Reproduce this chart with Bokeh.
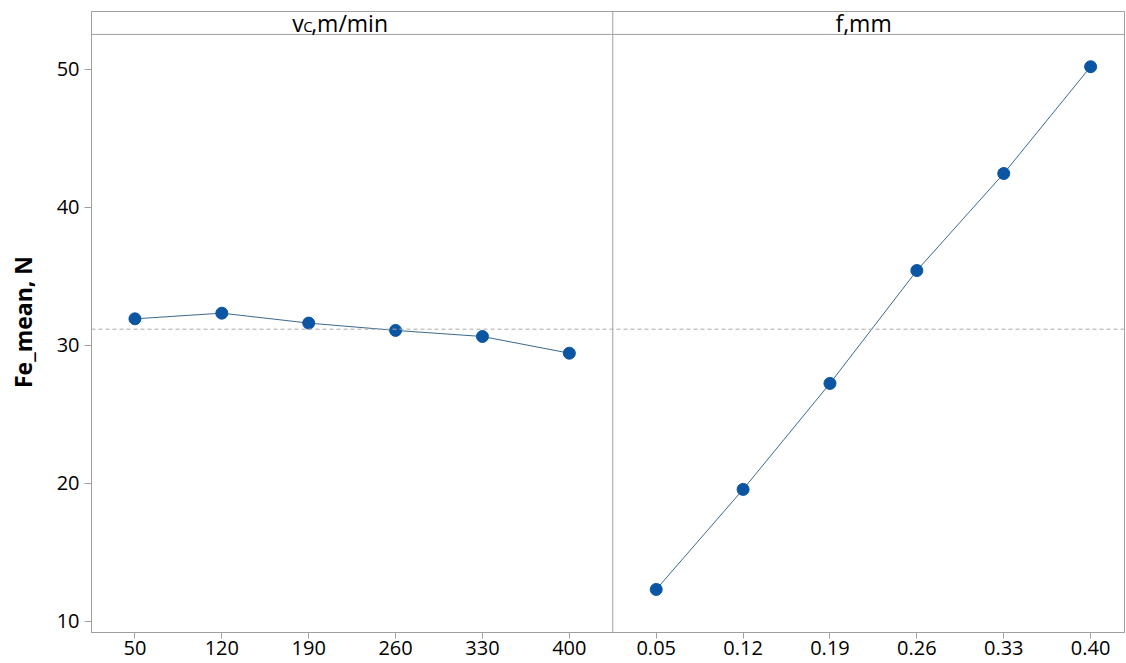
from bokeh.plotting import figure
from bokeh.models import Span, Label, FixedTicker, Range1d
from bokeh.embed import file_html
from bokeh.resources import INLINE

# Data
vc_levels = ["50", "120", "190", "260", "330", "400"]
vc_means = [31.93, 32.34, 31.62, 31.09, 30.65, 29.44]
f_levels = ["0.05", "0.12", "0.19", "0.26", "0.33", "0.40"]
f_means = [12.32, 19.57, 27.25, 35.43, 42.46, 50.20]
y_ticks = [10, 20, 30, 40, 50]
y_label = "Fe_mean, N"
panel_vc_title = ("v", "C", ",m/min")
panel_f_title = "f,mm"

grand_mean = sum(vc_means) / len(vc_means)

FONT = "Open Sans"
BLUE = "#0B55A3"
LINE = "#3A6A90"
GRAY = "#A0A0A0"

y_lo, y_strip, y_hi = 9.2, 52.54, 54.2

p = figure(width=1126, height=663, output_backend="svg", toolbar_location=None,
           x_range=Range1d(-0.5, 11.39), y_range=Range1d(y_lo, y_hi),
           min_border_left=91, min_border_right=2, min_border_top=11, min_border_bottom=31)
p.grid.visible = False
p.outline_line_color = GRAY
p.outline_line_width = 1
p.background_fill_color = "white"
p.border_fill_color = "white"

# positions in index space
xl = list(range(len(vc_levels)))
xr = [i + len(vc_levels) for i in range(len(f_levels))]

# mean reference line
p.add_layout(Span(location=grand_mean, dimension="width", line_color="#ABABAB",
                  line_dash="4 3", line_width=1))
# strip bottom line
p.add_layout(Span(location=y_strip, dimension="width", line_color=GRAY, line_width=1))
# panel divider
p.add_layout(Span(location=len(vc_levels) - 0.5, dimension="height", line_color=GRAY, line_width=1))

p.line(xl, vc_means, line_color=LINE, line_width=1)
p.scatter(xl, vc_means, size=12, fill_color=BLUE, line_color=BLUE)
p.line(xr, f_means, line_color=LINE, line_width=1)
p.scatter(xr, f_means, size=12, fill_color=BLUE, line_color=BLUE)

# x axis
p.xaxis.ticker = FixedTicker(ticks=xl + xr)
p.xaxis.major_label_overrides = {x: lab for x, lab in zip(xl + xr, vc_levels + f_levels)}
p.xaxis.minor_tick_line_color = None
p.xaxis.major_tick_in = 0
p.xaxis.major_tick_out = 6
p.xaxis.axis_line_color = GRAY
p.xaxis.major_tick_line_color = GRAY
p.xaxis.major_label_text_font = FONT
p.xaxis.major_label_text_font_size = "20px"
p.xaxis.major_label_text_color = "black"
p.xaxis.major_label_standoff = 2

# y axis
p.yaxis.ticker = FixedTicker(ticks=y_ticks)
p.yaxis.minor_tick_line_color = None
p.yaxis.major_tick_in = 0
p.yaxis.major_tick_out = 7
p.yaxis.axis_line_color = GRAY
p.yaxis.major_tick_line_color = GRAY
p.yaxis.major_label_text_font = FONT
p.yaxis.major_label_text_font_size = "20px"
p.yaxis.major_label_text_color = "black"
p.yaxis.major_label_standoff = 5
p.yaxis.axis_label = y_label
p.yaxis.axis_label_text_font = FONT
p.yaxis.axis_label_text_font_size = "23px"
p.yaxis.axis_label_text_font_style = "bold"
p.yaxis.axis_label_text_color = "black"
p.yaxis.axis_label_standoff = 15

# strip titles
ys = (y_strip + y_hi) / 2
cx_l = (len(vc_levels) - 1) / 2
cx_r = len(vc_levels) + (len(f_levels) - 1) / 2
common = dict(text_font=FONT, text_baseline="middle", text_align="left", text_color="black")
p.add_layout(Label(x=cx_l, y=ys, x_offset=-60, y_offset=0, text=panel_vc_title[0],
                   text_font_size="23px", **common))
p.add_layout(Label(x=cx_l, y=ys, x_offset=-49, y_offset=-3, text=panel_vc_title[1],
                   text_font_size="15px", **common))
p.add_layout(Label(x=cx_l, y=ys, x_offset=-41, y_offset=0, text=panel_vc_title[2],
                   text_font_size="23px", **common))
p.add_layout(Label(x=cx_r, y=ys, x_offset=-38, y_offset=0, text=panel_f_title,
                   text_font_size="23px", **common))

open("out.html", "w").write(file_html(p, INLINE))
